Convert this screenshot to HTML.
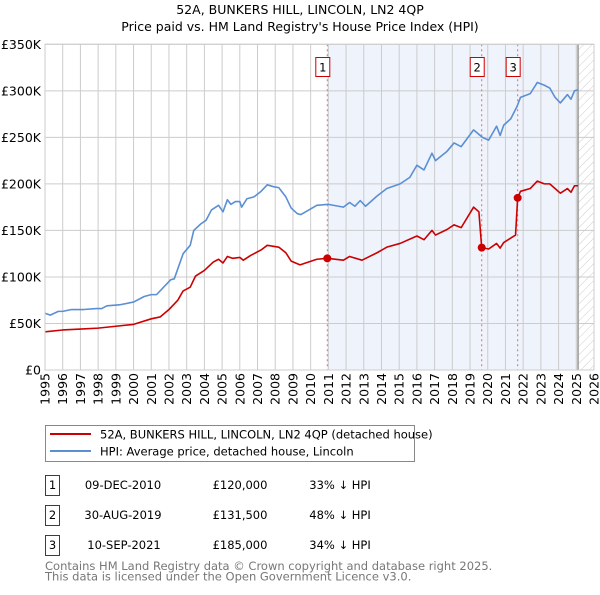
<!DOCTYPE html>
<html><head><meta charset="utf-8"><style>
body{margin:0;background:#fff;font-family:"Liberation Sans","DejaVu Sans",sans-serif;}
svg text{font-family:"DejaVu Sans","Liberation Sans",sans-serif;}
</style></head><body>
<svg id="chart" width="600" height="590" viewBox="0 0 600 590" xmlns="http://www.w3.org/2000/svg">
<defs><pattern id="hatch" width="6" height="6" patternUnits="userSpaceOnUse" patternTransform="rotate(45)"><line x1="0" y1="0" x2="0" y2="6" stroke="#cccccc" stroke-width="1"/></pattern></defs>
<text x="300" y="14" text-anchor="middle" font-size="12.5" fill="#000">52A, BUNKERS HILL, LINCOLN, LN2 4QP</text>
<text x="300" y="31" text-anchor="middle" font-size="12.5" fill="#000">Price paid vs. HM Land Registry's House Price Index (HPI)</text>
<g id="plot"></g>
<g id="legend">
<rect x="45.5" y="425.5" width="369" height="36" fill="#fff" stroke="#888"/>
<line x1="50" y1="434" x2="91" y2="434" stroke="#cc0000" stroke-width="2"/>
<text x="100" y="438.5" font-size="11.5">52A, BUNKERS HILL, LINCOLN, LN2 4QP (detached house)</text>
<line x1="50" y1="451" x2="91" y2="451" stroke="#5b8fd4" stroke-width="2"/>
<text x="100" y="455.5" font-size="11.5">HPI: Average price, detached house, Lincoln</text>
</g>
<g id="table" font-size="11.5">
<rect x="45.5" y="475.5" width="14" height="20" fill="#fff" stroke="#cc0000"/>
<text x="52.5" y="489" text-anchor="middle">1</text>
<text x="123" y="489" text-anchor="middle">09-DEC-2010</text>
<text x="240" y="489" text-anchor="middle">£120,000</text>
<text x="340" y="489" text-anchor="middle">33% ↓ HPI</text>
<rect x="45.5" y="505.5" width="14" height="20" fill="#fff" stroke="#cc0000"/>
<text x="52.5" y="519" text-anchor="middle">2</text>
<text x="123" y="519" text-anchor="middle">30-AUG-2019</text>
<text x="240" y="519" text-anchor="middle">£131,500</text>
<text x="340" y="519" text-anchor="middle">48% ↓ HPI</text>
<rect x="45.5" y="535.5" width="14" height="20" fill="#fff" stroke="#cc0000"/>
<text x="52.5" y="549" text-anchor="middle">3</text>
<text x="124" y="549" text-anchor="middle">10-SEP-2021</text>
<text x="240" y="549" text-anchor="middle">£185,000</text>
<text x="340" y="549" text-anchor="middle">34% ↓ HPI</text>
</g>
<text x="45" y="570" font-size="11.5" fill="#777">Contains HM Land Registry data © Crown copyright and database right 2025.</text>
<text x="45" y="580.5" font-size="11.5" fill="#777">This data is licensed under the Open Government Licence v3.0.</text>
</svg>
<script>
const hpiYears=[1995,1995.3,1995.75,1996,1996.5,1997.2,1997.9,1998.2,1998.5,1999.2,2000,2000.6,2001,2001.3,2002.1,2002.3,2002.8,2003.2,2003.4,2003.8,2004.1,2004.4,2004.8,2005.05,2005.3,2005.5,2005.75,2006,2006.1,2006.4,2006.8,2007.2,2007.55,2007.9,2008.2,2008.6,2008.9,2009.25,2009.45,2010.35,2011,2011.85,2012.2,2012.5,2012.8,2013.1,2013.75,2014.3,2015.05,2015.6,2016,2016.4,2016.85,2017.05,2017.7,2018.1,2018.5,2019.2,2019.7,2020.05,2020.5,2020.7,2020.9,2021.3,2021.65,2021.85,2022.4,2022.8,2023.2,2023.5,2023.8,2024.1,2024.5,2024.7,2024.9,2025.1];
const hpiValues=[61,59,63,63,65,65,66,66,69,70,73,79,81,81,97,98,125,134,150,157,161,172,177,170,183,178,181,181,175,184,186,192,199,197,196,186,174,168,167,177,178,175,180,176,182,176,187,195,200,207,220,215,233,225,235,244,240,258,250,247,262,252,263,270,283,293,297,309,306,303,293,287,296,291,300,301];
const priceYears=[1995,1996,1997,1998,1999,2000,2001,2001.5,2002,2002.5,2002.8,2003.2,2003.5,2004,2004.5,2004.8,2005.05,2005.3,2005.6,2006,2006.2,2006.6,2007.2,2007.55,2008.2,2008.6,2008.9,2009.4,2010.35,2010.94,2011.85,2012.2,2012.9,2013.75,2014.3,2015.05,2016,2016.4,2016.85,2017.05,2017.7,2018.1,2018.5,2019.2,2019.5,2019.66,2020.05,2020.5,2020.7,2020.9,2021.57,2021.69,2021.85,2022.4,2022.8,2023.2,2023.5,2023.8,2024.1,2024.5,2024.7,2024.9,2025.1];
const priceValues=[41,43,44,45,47,49,55,57,65,75,85,89,101,107,116,119,115,122,120,121,118,123,129,134,132,126,117,113,119,120,118,122,118,126,132,136,144,140,150,145,151,156,153,175,170,131.5,130,136,131,137,145,185,192,195,203,200,200,195,190,195,191,198,198];
const saleYears=[2010.94,2019.66,2021.69];
const saleValues=[120,131.5,185];
const saleLabels=["1","2","3"];
const yTicks=[0,50,100,150,200,250,300,350];
const yTickLabels=["£0","£50K","£100K","£150K","£200K","£250K","£300K","£350K"];
const xTicks=[1995,1996,1997,1998,1999,2000,2001,2002,2003,2004,2005,2006,2007,2008,2009,2010,2011,2012,2013,2014,2015,2016,2017,2018,2019,2020,2021,2022,2023,2024,2025,2026];

const X0=45,X1=594,Y0=370,Y1=44.3;
const xs=y=>X0+(y-1995)/(2026-1995)*(X1-X0);
const ys=v=>Y0-v/350*(Y0-Y1);
const NS="http://www.w3.org/2000/svg";
const g=document.getElementById('plot');
function mk(t,a){const e=document.createElementNS(NS,t);for(const k in a)e.setAttribute(k,a[k]);g.appendChild(e);return e;}
let e;
e=mk('rect',{x:xs(saleYears[0]),y:Y1,width:xs(2025.1)-xs(saleYears[0]),height:Y0-Y1,fill:'#eef3fc'});


e=mk('rect',{x:xs(2025.1),y:Y1,width:X1-xs(2025.1),height:Y0-Y1,fill:'url(#hatch)'});


xTicks.forEach(t=>{
 e=mk('line',{x1:xs(t),x2:xs(t),y1:Y1,y2:Y0,stroke:'#cccccc','stroke-width':1});
 
 
 e=mk('text',{x:0,y:0,'font-size':12.5,'text-anchor':'end',transform:`translate(${xs(t)+4.5},${Y0+3}) rotate(-90)`});
 e.textContent=t;
 
 
});
yTicks.forEach((t,i)=>{
 e=mk('line',{x1:X0,x2:X1,y1:ys(t),y2:ys(t),stroke:'#cccccc','stroke-width':1});
 
 
 e=mk('text',{x:X0-4,y:ys(t)+4.5,'font-size':12.5,'text-anchor':'end'});
 e.textContent=yTickLabels[i];
 
 
});
e=mk('line',{x1:xs(2025.1),x2:xs(2025.1),y1:Y1,y2:Y0,stroke:'#999','stroke-width':1.5});


saleYears.forEach((s,i)=>{
 e=mk('line',{x1:xs(s),x2:xs(s),y1:Y1,y2:Y0,stroke:'#ee6666','stroke-width':1,'stroke-dasharray':'2,3'});
 
 
 e=mk('rect',{x:xs(s)-11.5,y:57.5,width:14,height:19,fill:'#fff',stroke:'#cc0000'});
 
 
 e=mk('text',{x:xs(s)-4.5,y:71.5,'font-size':11.5,'text-anchor':'middle'});
 e.textContent=saleLabels[i];
 
 
});
e=mk('polyline',{points:hpiYears.map((y,i)=>xs(y)+','+ys(hpiValues[i])).join(' '),fill:'none',stroke:'#5b8fd4','stroke-width':1.6,'stroke-linejoin':'round'});


e=mk('polyline',{points:priceYears.map((y,i)=>xs(y)+','+ys(priceValues[i])).join(' '),fill:'none',stroke:'#cc0000','stroke-width':1.6,'stroke-linejoin':'round'});


saleYears.forEach((s,i)=>{
 e=mk('circle',{cx:xs(s),cy:ys(saleValues[i]),r:4,fill:'#cc0000'});
 
 
});
e=mk('rect',{x:X0,y:Y1,width:X1-X0,height:Y0-Y1,fill:'none',stroke:'#cccccc'});


</script>
</body></html>
